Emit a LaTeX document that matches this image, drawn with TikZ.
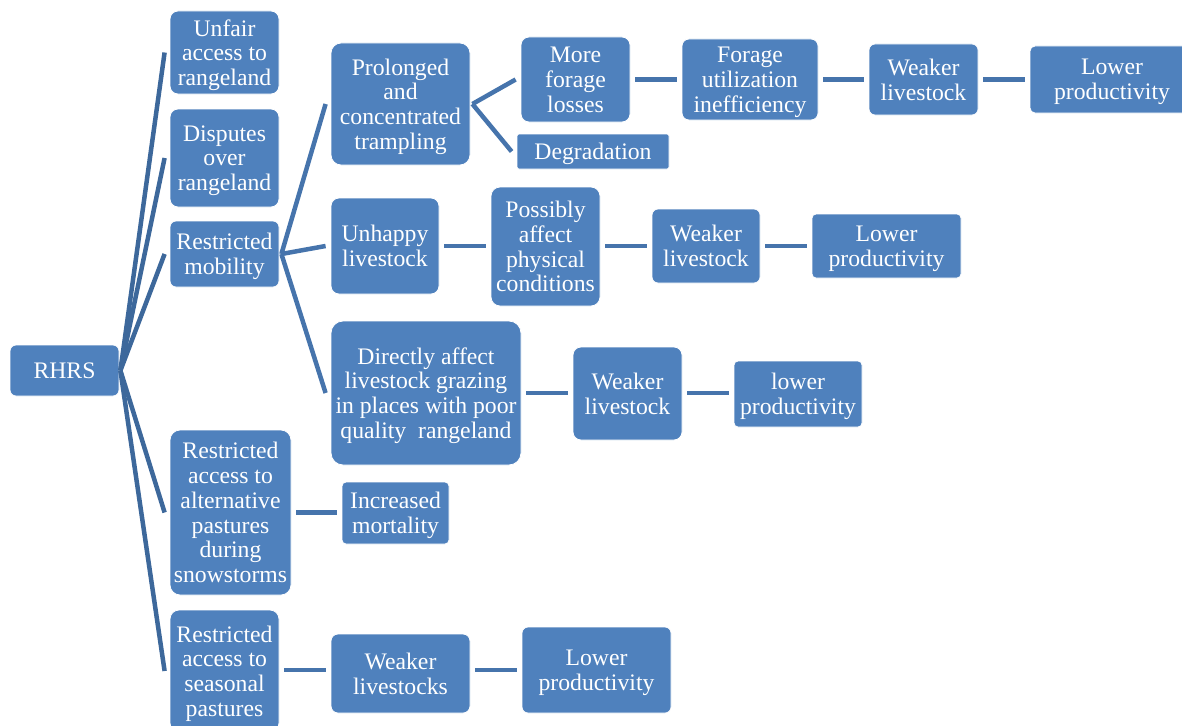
\documentclass[tikz,border=0pt]{standalone}
\usepackage{fontspec}
\setmainfont{Liberation Serif}
\definecolor{boxblue}{RGB}{79,129,189}
\definecolor{linedark}{RGB}{61,104,155}
\definecolor{linemid}{RGB}{70,116,172}
\tikzset{
  box/.style={fill=boxblue, draw=white, line width=0.8pt, text=white, align=center,
    inner sep=0pt, text depth=0pt, font=\fontsize{23.7}{24.8}\selectfont},
  conn/.style={draw=linemid, line width=4.5pt},
  trunk/.style={draw=linedark, line width=4.5pt},
}
\newcommand{\mybox}[7]{\node[box, minimum width=#4pt, minimum height=#5pt, rounded corners=#6pt] (#1) at (#2,#3) {#7};}
\begin{document}
\begin{tikzpicture}[x=1pt,y=-1pt]
\useasboundingbox (0,0) rectangle (1182,725);
% level 0
\mybox{rhrs}{64.5}{370.5}{109}{51}{6}{RHRS}
% level 1
\mybox{unfair}{224.5}{52.5}{109}{83}{8}{Unfair\\access to\\rangeland}
\mybox{disputes}{224.5}{158}{109}{98}{8}{Disputes\\over\\rangeland}
\mybox{mobility}{224.5}{254}{109}{66}{6}{Restricted\\mobility}
\mybox{alt}{230.5}{512.5}{121}{165}{10}{Restricted\\access to\\alternative\\pastures\\during\\snowstorms}
\mybox{seasonal}{224.5}{671}{109}{122}{9}{Restricted\\access to\\seasonal\\pastures}
% mobility branch
\mybox{prolonged}{400.5}{104}{139}{122}{10}{Prolonged\\and\\concentrated\\trampling}
\mybox{moreforage}{575.5}{79.5}{109}{85}{8}{More\\forage\\losses}
\mybox{degradation}{593}{151.5}{152}{35}{2}{Degradation}
\mybox{forageutil}{750}{79.5}{136}{81}{7}{Forage\\utilization\\inefficiency}
\mybox{weakerA}{923.5}{79.5}{109}{71}{6}{Weaker\\livestock}
\mybox{lowerA}{1112}{79.5}{164}{67}{5}{Lower\\productivity}
\mybox{unhappy}{385}{246}{108}{96}{8}{Unhappy\\livestock}
\mybox{possibly}{545.5}{246.5}{109}{119}{9}{Possibly\\affect\\physical\\conditions}
\mybox{weakerB}{706}{246}{108}{74}{6}{Weaker\\livestock}
\mybox{lowerB}{886.5}{246}{149}{64}{4}{Lower\\productivity}
\mybox{directly}{426}{393}{190}{144}{12}{Directly affect\\livestock grazing\\in places with poor\\quality\ \ rangeland}
\mybox{weakerC}{627.5}{393.5}{109}{93}{8}{Weaker\\livestock}
\mybox{lowerC}{798}{394}{128}{66}{4}{lower\\productivity}
% other branches
\mybox{increased}{395.5}{513}{107}{62}{4}{Increased\\mortality}
\mybox{weakerD}{400.5}{673.5}{139}{79}{7}{Weaker\\livestocks}
\mybox{lowerD}{596.5}{670}{149}{86}{6}{Lower\\productivity}
% trunk connectors
\foreach \c in {unfair,disputes,mobility,alt,seasonal}
  \draw[trunk] ([xshift=1pt]rhrs.east) -- ([xshift=-5pt]\c.west);
\foreach \c in {prolonged,unhappy,directly}
  \draw[conn] ([xshift=2pt]mobility.east) -- ([xshift=-5pt]\c.west);
\draw[conn] ([xshift=2pt]prolonged.east) -- ([xshift=-5pt]moreforage.west);
\draw[conn] ([xshift=2pt]prolonged.east) -- ([xshift=-5pt]degradation.west);
% chains
\draw[conn] ([xshift=5pt]moreforage.east) -- ([xshift=-5pt]forageutil.west);
\draw[conn] ([xshift=5pt]forageutil.east) -- ([xshift=-5pt]weakerA.west);
\draw[conn] ([xshift=5pt]weakerA.east) -- ([xshift=-5pt]lowerA.west);
\draw[conn] ([xshift=5pt]unhappy.east) -- ([xshift=-5pt]possibly.west |- unhappy.east);
\draw[conn] ([xshift=5pt]possibly.east |- unhappy.east) -- ([xshift=-5pt]weakerB.west);
\draw[conn] ([xshift=5pt]weakerB.east) -- ([xshift=-5pt]lowerB.west);
\draw[conn] ([xshift=5pt]directly.east) -- ([xshift=-5pt]weakerC.west |- directly.east);
\draw[conn] ([xshift=5pt]weakerC.east |- directly.east) -- ([xshift=-5pt]lowerC.west |- directly.east);
\draw[conn] ([xshift=5pt]alt.east) -- ([xshift=-5pt]increased.west |- alt.east);
\draw[conn] ([xshift=5pt]seasonal.east |- lowerD.west) -- ([xshift=-5pt]weakerD.west |- lowerD.west);
\draw[conn] ([xshift=5pt]weakerD.east |- lowerD.west) -- ([xshift=-5pt]lowerD.west);
\end{tikzpicture}
\end{document}
